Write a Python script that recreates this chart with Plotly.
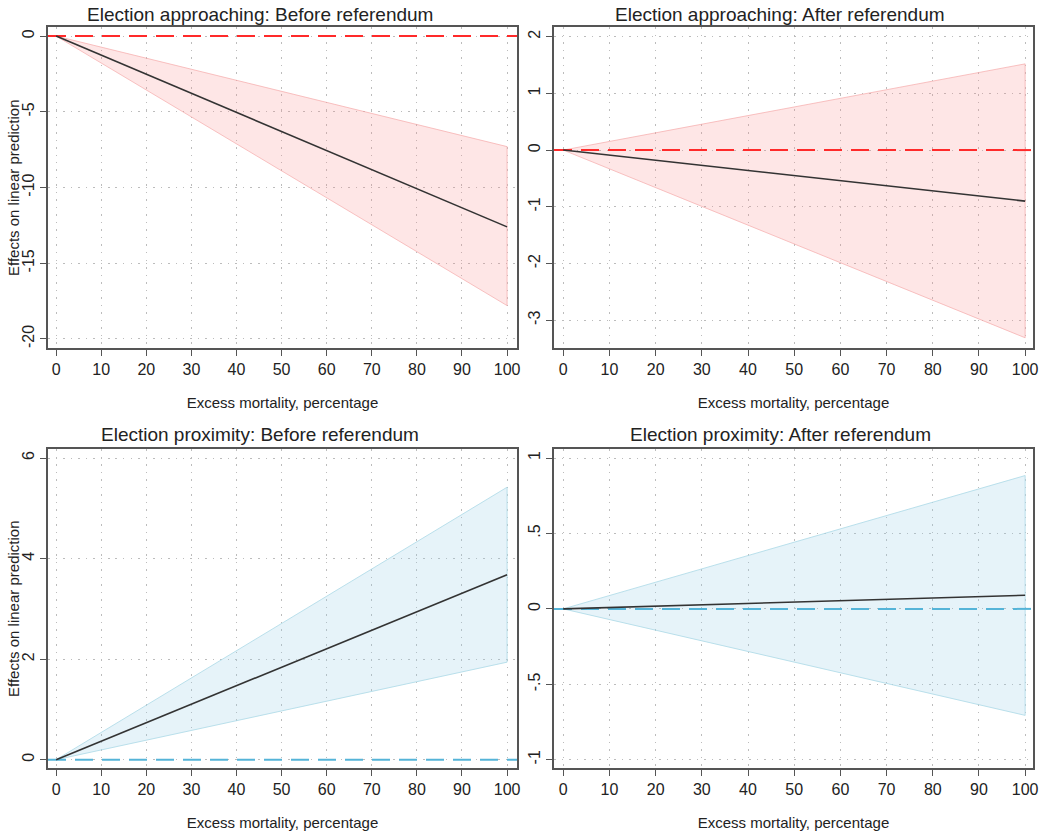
import plotly.graph_objects as go

# ---------------- data ----------------
x_vals = [0, 100]

tl_est = [0, -12.6]
tl_lo = [0, -17.8]
tl_hi = [0, -7.3]

tr_est = [0, -0.90]
tr_lo = [0, -3.31]
tr_hi = [0, 1.52]

bl_est = [0, 3.68]
bl_lo = [0, 1.94]
bl_hi = [0, 5.42]

br_est = [0, 0.09]
br_lo = [0, -0.706]
br_hi = [0, 0.884]

titles = [
    "Election approaching: Before referendum",
    "Election approaching: After referendum",
    "Election proximity: Before referendum",
    "Election proximity: After referendum",
]
y_title = "Effects on linear prediction"
x_title = "Excess mortality, percentage"
x_ticks = [0, 10, 20, 30, 40, 50, 60, 70, 80, 90, 100]
tl_yticks = [0, -5, -10, -15, -20]
tr_yticks = [2, 1, 0, -1, -2, -3]
bl_yticks = [0, 2, 4, 6]
br_yticks = [1, 0.5, 0, -0.5, -1]
br_ylabels = ["1", ".5", "0", "-.5", "-1"]

# ---------------- styling ----------------
W, H = 1046, 838
FONT = "Liberation Sans, Arial, Helvetica, sans-serif"
RED_FILL = "rgba(250,140,140,0.22)"
RED_EDGE = "rgba(245,170,170,0.7)"
RED_DASH = "#ff2a2a"
BLUE_FILL = "rgba(150,205,230,0.24)"
BLUE_EDGE = "rgba(175,218,232,0.85)"
BLUE_DASH = "#55b4d8"
GRID = "#bcbcbc"
FRAME = "#555555"

# panel pixel boxes (left, right, top, bottom)
boxes = [
    (48, 517, 27, 348),
    (554, 1033, 27, 348),
    (48, 517, 449, 768),
    (554, 1033, 449, 768),
]
x_ranges = [[-1.8, 102.2], [-2.0, 101.7], [-1.8, 102.2], [-2.0, 101.7]]
y_ranges = [[-20.6, 0.6], [-3.49, 2.17], [-0.165, 6.18], [-1.055, 1.06]]

panels = [
    (tl_est, tl_lo, tl_hi, RED_FILL, RED_EDGE, RED_DASH, tl_yticks, [str(v) for v in tl_yticks]),
    (tr_est, tr_lo, tr_hi, RED_FILL, RED_EDGE, RED_DASH, tr_yticks, [str(v) for v in tr_yticks]),
    (bl_est, bl_lo, bl_hi, BLUE_FILL, BLUE_EDGE, BLUE_DASH, bl_yticks, [str(v) for v in bl_yticks]),
    (br_est, br_lo, br_hi, BLUE_FILL, BLUE_EDGE, BLUE_DASH, br_yticks, br_ylabels),
]

fig = go.Figure()
layout = dict(
    width=W, height=H,
    margin=dict(l=0, r=0, t=0, b=0, autoexpand=False),
    paper_bgcolor="white", plot_bgcolor="white",
    showlegend=False,
    font=dict(family=FONT, color="#222", size=15),
)
annotations = []

for i, (est, lo, hi, fillc, edgec, dashc, yt, ytl) in enumerate(panels):
    n = i + 1
    xa = "x" if n == 1 else f"x{n}"
    ya = "y" if n == 1 else f"y{n}"
    # band polygon
    bx = list(x_vals) + list(reversed(x_vals))
    by = list(hi) + list(reversed(lo))
    fig.add_trace(go.Scatter(
        x=bx + [bx[0]], y=by + [by[0]], mode="lines", fill="toself",
        fillcolor=fillc, line=dict(color=edgec, width=1),
        xaxis=xa, yaxis=ya, hoverinfo="skip"))
    # zero reference line across the whole plot
    fig.add_trace(go.Scatter(
        x=x_ranges[i], y=[0, 0], mode="lines",
        line=dict(color=dashc, width=2, dash="18px,9px"),
        xaxis=xa, yaxis=ya, hoverinfo="skip"))
    # estimate
    fig.add_trace(go.Scatter(
        x=x_vals, y=est, mode="lines",
        line=dict(color="#333333", width=1.6),
        xaxis=xa, yaxis=ya))

    l, r, t, b = boxes[i]
    xkey = "xaxis" if n == 1 else f"xaxis{n}"
    ykey = "yaxis" if n == 1 else f"yaxis{n}"
    layout[xkey] = dict(
        domain=[l / W, r / W], anchor=ya, range=x_ranges[i],
        tickmode="array", tickvals=x_ticks, ticktext=[str(v) for v in x_ticks],
        ticks="outside", ticklen=6, tickwidth=1.2, tickcolor=FRAME,
        showline=True, linecolor=FRAME, linewidth=2, mirror=True,
        showgrid=True, gridcolor=GRID, griddash="1.5px,6px", gridwidth=1,
        zeroline=False,
        tickfont=dict(size=16, family=FONT, color="#222"),
        title=dict(text=x_title, standoff=20,
                   font=dict(size=15, family=FONT, color="#222")),
    )
    layout[ykey] = dict(
        domain=[1 - b / H, 1 - t / H], anchor=xa, range=y_ranges[i],
        tickmode="array", tickvals=yt, ticktext=ytl, tickangle=-90,
        ticks="outside", ticklen=6, tickwidth=1.2, tickcolor=FRAME,
        showline=True, linecolor=FRAME, linewidth=2, mirror=True,
        showgrid=True, gridcolor=GRID, griddash="1.5px,6px", gridwidth=1,
        zeroline=False,
        tickfont=dict(size=16, family=FONT, color="#222"),
    )
    if i in (0, 2):
        annotations.append(dict(
            text=y_title, textangle=-90,
            x=13.5 / W, y=1 - ((t + b) / 2) / H, xref="paper", yref="paper",
            xanchor="center", yanchor="middle", showarrow=False,
            font=dict(size=15, family=FONT, color="#222")))

title_pos = [(260, 14), (780, 14), (260, 435), (780, 435)]
for (cx, cy), txt in zip(title_pos, titles):
    annotations.append(dict(
        text=txt, x=cx / W, y=1 - cy / H, xref="paper", yref="paper",
        xanchor="center", yanchor="middle", showarrow=False,
        font=dict(size=19, family=FONT, color="#222")))

layout["annotations"] = annotations
fig.update_layout(**layout)
fig.write_html(
    "out.html",
    config={"displayModeBar": False},
    post_script="document.body.style.margin='0';document.body.style.overflow='hidden';",
)
